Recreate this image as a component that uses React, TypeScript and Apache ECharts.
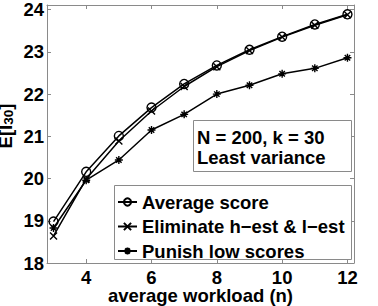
import React, { useEffect, useRef } from "react";
import * as echarts from "echarts";

const workload = [3, 4, 5, 6, 7, 8, 9, 10, 11, 12];
const averageScore = [18.98, 20.16, 21.01, 21.68, 22.24, 22.68, 23.05, 23.36, 23.65, 23.89];
const eliminateEst = [18.64, 19.99, 20.89, 21.60, 22.18, 22.65, 23.03, 23.35, 23.63, 23.88];
const punishLow = [18.83, 19.96, 20.44, 21.15, 21.52, 22.0, 22.21, 22.48, 22.61, 22.86];
const xTicks = [4, 6, 8, 10, 12];
const yTicks = [18, 19, 20, 21, 22, 23, 24];
const seriesNames = ["Average score", "Eliminate h\u2212est & l\u2212est", "Punish low scores"];
const boxLines = ["N = 200, k = 30", "Least variance"];

const FONT = "Liberation Sans, Arial, Helvetica, sans-serif";
const FS = 18.5;
const AXIS_GRAY = "#8a8a8a";

const crossPath = "path://M0,0 L10,10 M10,0 L0,10";
const starPath = "path://M5,0 L5,10 M0,5 L10,5 M1.6,1.6 L8.4,8.4 M8.4,1.6 L1.6,8.4";

export default function App() {
  const ref = useRef<HTMLDivElement>(null);
  useEffect(() => {
    if (!ref.current) return;
    const chart = echarts.init(ref.current, undefined, { renderer: "svg" });
    const pair = (ys: number[]) => workload.map((x, i) => [x, ys[i]]);
    const lineCommon = {
      type: "line",
      lineStyle: { color: "#000", width: 1.5 },
      emphasis: { disabled: true },
    };
    const txt = { fontSize: FS, fontWeight: "bold", color: "#000", fontFamily: FONT };
    chart.setOption({
      animation: false,
      backgroundColor: "#fff",
      grid: { left: 47, right: 24, top: 5, bottom: 43, containLabel: false, outerBoundsMode: "none" },
      xAxis: [
        {
          type: "value",
          min: 2.8,
          max: 12.2,
          name: "average workload (n)",
          nameLocation: "middle",
          nameGap: 24.5,
          nameMoveOverlap: false,
          nameTextStyle: { ...txt, lineHeight: 15 },
          axisLine: { show: true, lineStyle: { color: AXIS_GRAY, width: 1 } },
          axisTick: { show: true, inside: true, length: 4, customValues: xTicks, lineStyle: { color: AXIS_GRAY } },
          axisLabel: { ...txt, lineHeight: 15, margin: 7, customValues: xTicks },
          splitLine: { show: false },
        },
        {
          type: "value",
          position: "top",
          min: 2.8,
          max: 12.2,
          axisLine: { show: true, lineStyle: { color: AXIS_GRAY, width: 1 } },
          axisTick: { show: true, inside: true, length: 4, customValues: xTicks, lineStyle: { color: AXIS_GRAY } },
          axisLabel: { show: false },
          splitLine: { show: false },
        },
      ],
      yAxis: [
        {
          type: "value",
          min: 18,
          max: 24.11,
          name: "{a|E[I}{b|30}{a|]}",
          nameLocation: "middle",
          nameGap: 32,
          nameMoveOverlap: false,
          nameTextStyle: {
            padding: [0, 0, 0, 16],
            rich: {
              a: { ...txt, lineHeight: 18, verticalAlign: "bottom" },
              b: { ...txt, fontSize: 13.5, lineHeight: 6, verticalAlign: "bottom" },
            },
          },
          axisLine: { show: true, lineStyle: { color: AXIS_GRAY, width: 1 } },
          axisTick: { show: true, inside: true, length: 4, customValues: yTicks, lineStyle: { color: AXIS_GRAY } },
          axisLabel: { ...txt, margin: 3, customValues: yTicks },
          splitLine: { show: false },
        },
        {
          type: "value",
          position: "right",
          min: 18,
          max: 24.11,
          axisLine: { show: true, lineStyle: { color: AXIS_GRAY, width: 1 } },
          axisTick: { show: true, inside: true, length: 4, customValues: yTicks, lineStyle: { color: AXIS_GRAY } },
          axisLabel: { show: false },
          splitLine: { show: false },
        },
      ],
      legend: {
        orient: "vertical",
        left: 117,
        top: 192.5,
        padding: 0,
        itemWidth: 19,
        itemHeight: 9,
        itemGap: 5.5,
        selectedMode: false,
        z: 20,
        textStyle: { ...txt },
        data: seriesNames,
      },
      graphic: [
        {
          type: "rect",
          shape: { x: 193.5, y: 120.5, width: 158, height: 51 },
          style: { fill: "#fff", stroke: AXIS_GRAY, lineWidth: 1 },
          z: 5,
        },
        {
          type: "text",
          x: 197,
          y: 137.5,
          style: { text: boxLines[0], fontSize: FS, fontWeight: "bold", fill: "#000", fontFamily: FONT, verticalAlign: "middle" },
          z: 6,
        },
        {
          type: "text",
          x: 197,
          y: 157,
          style: { text: boxLines[1], fontSize: FS, fontWeight: "bold", fill: "#000", fontFamily: FONT, verticalAlign: "middle" },
          z: 6,
        },
        {
          type: "rect",
          shape: { x: 114.5, y: 185.5, width: 237, height: 74 },
          style: { fill: "#fff", stroke: AXIS_GRAY, lineWidth: 1 },
          z: 5,
        },
      ],
      series: [
        {
          ...lineCommon,
          name: seriesNames[0],
          data: pair(averageScore),
          symbol: "circle",
          symbolSize: 9,
          itemStyle: { color: "rgba(255,255,255,0)", borderColor: "#000", borderWidth: 1.4 },
          z: 4,
        },
        {
          ...lineCommon,
          name: seriesNames[1],
          data: pair(eliminateEst),
          symbol: crossPath,
          symbolSize: 7,
          itemStyle: { color: "#000", borderColor: "#000", borderWidth: 1.4 },
          z: 3,
        },
        {
          ...lineCommon,
          name: seriesNames[2],
          data: pair(punishLow),
          symbol: starPath,
          symbolSize: 8,
          itemStyle: { color: "#000", borderColor: "#000", borderWidth: 1.4 },
          z: 2,
        },
      ],
    });
    return () => chart.dispose();
  }, []);
  return (
    <div
      ref={ref}
      style={{ position: "fixed", left: 0, top: 0, width: 378, height: 306, background: "#fff" }}
    />
  );
}
